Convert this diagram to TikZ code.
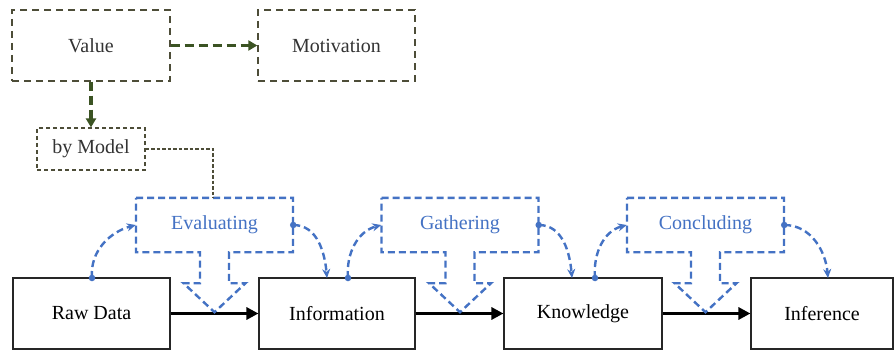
\documentclass[tikz,border=0pt]{standalone}
\usepackage{fontspec}
\setmainfont{Liberation Serif}
\usetikzlibrary{arrows.meta}
\definecolor{myblue}{HTML}{4472C4}
\definecolor{mygreen}{HTML}{3B5323}
\definecolor{olivebox}{HTML}{4D4D38}
\tikzset{
  gbox/.style={draw=olivebox, dashed, dash pattern=on 7pt off 5pt, line width=1.4pt, minimum height=71pt, font=\fontsize{20}{24}\selectfont, text=black!80, inner sep=0pt},
  mbox/.style={draw=black!85, line width=1.1pt, minimum height=71pt, font=\fontsize{20}{24}\selectfont, inner sep=0pt},
  garrow/.style={draw=mygreen, line width=3.2pt, dash pattern=on 9pt off 5pt, -{Triangle[length=9pt,width=10pt]}},
  barrow/.style={draw=black, line width=3.2pt, -{Triangle[length=12pt,width=12pt]}},
  bdash/.style={draw=myblue, line width=2.4pt, dash pattern=on 7pt off 4pt},
  curv/.style={bdash, -{Stealth[length=9pt,width=8pt]}},
  dotc/.style={fill=myblue, circle, inner sep=0pt, minimum size=6.5pt},
  calltext/.style={text=myblue, font=\fontsize{20}{24}\selectfont, minimum width=157pt, minimum height=54pt, inner sep=0pt},
}
\newcommand{\callout}[1]{%
  \draw[bdash, line join=miter]
    ([xshift=-78.5pt]#1.north) -- ([xshift=78.5pt]#1.north) -- ([xshift=78.5pt]#1.south)
    -- ([xshift=14.5pt]#1.south) -- ([xshift=14.5pt,yshift=-31pt]#1.south)
    -- ([xshift=31pt,yshift=-31pt]#1.south) -- ([yshift=-60pt]#1.south)
    -- ([xshift=-31pt,yshift=-31pt]#1.south) -- ([xshift=-14.5pt,yshift=-31pt]#1.south)
    -- ([xshift=-14.5pt]#1.south) -- ([xshift=-78.5pt]#1.south) -- cycle;}
\begin{document}
\begin{tikzpicture}[x=1pt,y=-1pt]
\useasboundingbox[fill=white] (0,0) rectangle (895,353);
% top boxes
\node[gbox, minimum width=158pt] (val) at (91,45.5) {Value};
\node[gbox, minimum width=157pt] (mot) at (336.5,45.5) {Motivation};
\node[gbox, minimum width=108pt, minimum height=42pt, line width=1.2pt, dash pattern=on 4pt off 3pt] (bym) at (91,149) {by Model};
\draw[garrow] (val.east) -- (mot.west);
\draw[garrow] (val.south) -- (bym.north);
% main boxes
\node[mbox, minimum width=157pt] (raw) at (91.5,313.5) {Raw Data};
\node[mbox, minimum width=156pt] (inf) at (337,313.5) {Information};
\node[mbox, minimum width=158pt] (kno) at (583,313.5) {Knowledge};
\node[mbox, minimum width=142pt] (infe) at (822,313.5) {Inference};
\draw[barrow] (raw.east) -- (inf.west);
\draw[barrow] (inf.east) -- (kno.west);
\draw[barrow] (kno.east) -- (infe.west);
% callouts
\node[calltext] (ev) at (214.5,225) {Evaluating};
\node[calltext] (ga) at (460,225) {Gathering};
\node[calltext] (co) at (705.5,225) {Concluding};
\callout{ev}
\callout{ga}
\callout{co}
% by model connector
\coordinate (bend) at (213,149);
\draw[olivebox, line width=1.2pt, dash pattern=on 3.5pt off 2pt] (bym.east) -- (bend) -- (bend |- ev.north);
% curved arrows
\coordinate (d1) at (92,278);
\coordinate (d2) at (348,278);
\coordinate (d3) at (595,278);
\coordinate (e1) at (ev.east);
\coordinate (e2) at (ga.east);
\coordinate (e3) at (co.east);
\node[dotc] (p1) at (d1) {};
\node[dotc] (p2) at (d2) {};
\node[dotc] (p3) at (d3) {};
\node[dotc] (q1) at (e1) {};
\node[dotc] (q2) at (e2) {};
\node[dotc] (q3) at (e3) {};
\draw[curv] (p1.center) to[out=95,in=195] (ev.west);
\draw[curv] (p2.center) to[out=95,in=195] (ga.west);
\draw[curv] (p3.center) to[out=95,in=195] (co.west);
\draw[curv] (q1.center) to[out=0,in=95] (327,278);
\draw[curv] (q2.center) to[out=0,in=95] (572,278);
\draw[curv] (q3.center) to[out=0,in=95] (828,278);
\end{tikzpicture}
\end{document}
